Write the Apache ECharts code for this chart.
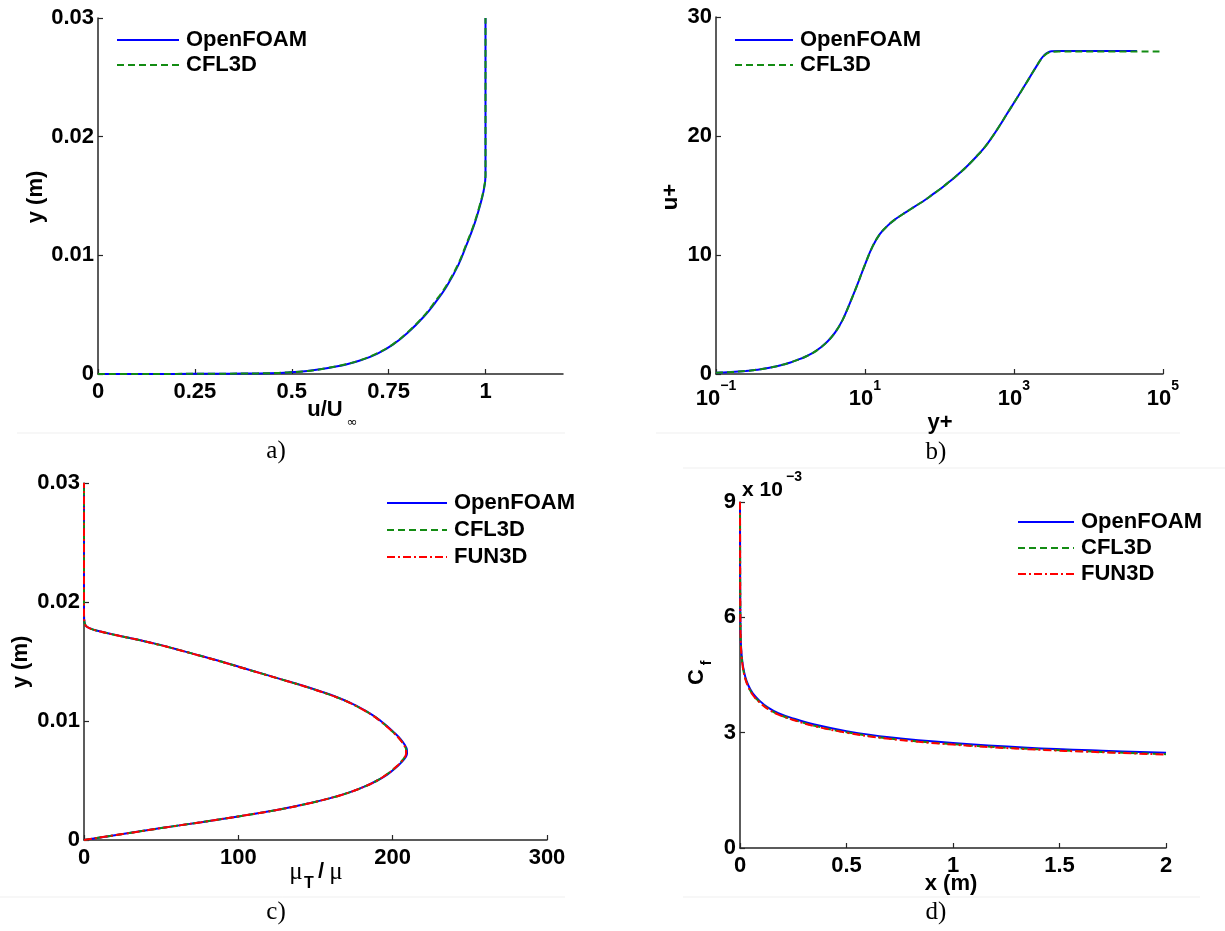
<!DOCTYPE html>
<html>
<head>
<meta charset="utf-8">
<script src="https://cdn.jsdelivr.net/npm/echarts@6/dist/echarts.min.js"></script>
<style>
  html, body { margin: 0; padding: 0; background: #ffffff; }
  #chart { width: 1225px; height: 931px; }
</style>
</head>
<body>
<div id="chart"></div>
<script>
// ---- a) mean velocity profile: u/U_inf against wall distance y (m) ----
const velU_openfoam = [0, 0.10, 0.20, 0.30, 0.38, 0.44, 0.49, 0.54, 0.59, 0.64, 0.68, 0.72, 0.76, 0.80, 0.84, 0.87, 0.90, 0.93, 0.95, 0.97, 0.985, 0.995, 1.0, 1.0];
const velY_openfoam = [0, 0.000005, 0.00001, 0.00002, 0.00004, 0.00007, 0.00013, 0.00025, 0.00048, 0.0008, 0.00118, 0.0017, 0.00245, 0.0035, 0.0048, 0.0060, 0.0074, 0.0092, 0.0108, 0.0125, 0.0141, 0.0154, 0.0167, 0.030];
const velU_cfl3d    = [0, 0.10, 0.20, 0.30, 0.38, 0.44, 0.49, 0.54, 0.59, 0.64, 0.68, 0.72, 0.76, 0.80, 0.84, 0.87, 0.90, 0.93, 0.95, 0.97, 0.985, 0.995, 1.0, 1.0];
const velY_cfl3d    = [0, 0.000005, 0.00001, 0.00002, 0.00004, 0.00007, 0.00013, 0.00025, 0.00049, 0.00082, 0.0012, 0.00173, 0.00248, 0.00355, 0.00485, 0.0061, 0.0075, 0.0093, 0.0109, 0.0126, 0.0142, 0.0155, 0.0168, 0.030];

// ---- b) law of the wall: u+ against y+ ----
const yPlus_openfoam = [0.1, 0.126, 0.158, 0.2, 0.251, 0.316, 0.398, 0.501, 0.631, 0.794, 1, 1.26, 1.58, 2.0, 2.51, 3.16, 3.98, 5.01, 6.31, 7.94, 10, 12.6, 15.8, 20, 25.1, 31.6, 39.8, 50.1, 63.1, 79.4, 100, 126, 158, 200, 251, 316, 398, 501, 631, 794, 1000, 1260, 1580, 2000, 2510, 3160, 3980, 10000, 44700];
const uPlus_openfoam = [0.10, 0.13, 0.16, 0.20, 0.25, 0.32, 0.40, 0.50, 0.63, 0.79, 0.97, 1.2, 1.45, 1.77, 2.2, 2.75, 3.5, 4.55, 6.0, 7.55, 9.2, 10.7, 11.75, 12.45, 12.97, 13.4, 13.8, 14.2, 14.6, 15.05, 15.5, 16.0, 16.5, 17.05, 17.65, 18.3, 19.0, 19.85, 20.8, 21.8, 22.8, 23.8, 24.8, 25.85, 26.75, 27.12, 27.15, 27.15, 27.15];
const yPlus_cfl3d    = [0.1, 0.126, 0.158, 0.2, 0.251, 0.316, 0.398, 0.501, 0.631, 0.794, 1, 1.26, 1.58, 2.0, 2.51, 3.16, 3.98, 5.01, 6.31, 7.94, 10, 12.6, 15.8, 20, 25.1, 31.6, 39.8, 50.1, 63.1, 79.4, 100, 126, 158, 200, 251, 316, 398, 501, 631, 794, 1000, 1260, 1580, 2000, 2510, 3160, 3980, 10000, 100000];
const uPlus_cfl3d    = [0.10, 0.13, 0.16, 0.20, 0.25, 0.32, 0.40, 0.50, 0.63, 0.79, 0.97, 1.2, 1.45, 1.77, 2.2, 2.75, 3.5, 4.55, 6.0, 7.55, 9.2, 10.7, 11.75, 12.45, 12.97, 13.4, 13.8, 14.2, 14.6, 15.05, 15.5, 16.0, 16.5, 17.05, 17.65, 18.3, 19.0, 19.85, 20.8, 21.8, 22.8, 23.8, 24.8, 25.85, 26.72, 27.07, 27.1, 27.1, 27.1];

// ---- c) eddy viscosity ratio mu_T/mu against y (m) ----
const muT_openfoam  = [0, 25, 50, 76, 101, 124, 143, 159, 172, 182, 190, 196.5, 201.5, 205.5, 208.6, 209.3, 209.2, 207.8, 205, 201.2, 197, 192.3, 187, 180.5, 173, 164, 153, 141, 128, 115, 102, 89, 75, 61, 46, 29, 18, 8, 3.5, 1.2, 0.3, 0, 0];
const muTY_openfoam = [0, 0.0005, 0.0010, 0.0015, 0.0020, 0.0025, 0.0030, 0.0035, 0.0040, 0.0045, 0.0050, 0.0055, 0.0060, 0.0065, 0.0070, 0.0073, 0.0076, 0.0080, 0.0085, 0.0090, 0.0095, 0.0100, 0.0105, 0.0110, 0.0115, 0.0120, 0.0125, 0.0130, 0.0135, 0.0140, 0.0145, 0.0150, 0.0155, 0.0160, 0.0165, 0.0170, 0.0173, 0.0176, 0.0178, 0.0180, 0.0183, 0.0190, 0.030];
const muT_cfl3d     = [0, 25, 50, 76, 101, 124, 143, 159, 172, 182, 190, 196, 201, 205, 208, 208.8, 208.7, 207.3, 204.5, 200.8, 196.6, 192, 186.7, 180.2, 172.7, 163.7, 152.7, 140.7, 127.7, 114.7, 101.7, 88.7, 74.7, 60.7, 45.7, 28.8, 17.8, 8, 3.5, 1.2, 0.3, 0, 0];
const muTY_cfl3d    = [0, 0.0005, 0.0010, 0.0015, 0.0020, 0.0025, 0.0030, 0.0035, 0.0040, 0.0045, 0.0050, 0.0055, 0.0060, 0.0065, 0.0070, 0.0073, 0.0076, 0.0080, 0.0085, 0.0090, 0.0095, 0.0100, 0.0105, 0.0110, 0.0115, 0.0120, 0.0125, 0.0130, 0.0135, 0.0140, 0.0145, 0.0150, 0.0155, 0.0160, 0.0165, 0.0170, 0.0173, 0.0176, 0.0178, 0.0180, 0.0183, 0.0190, 0.030];
const muT_fun3d     = [0, 25, 50, 76, 101, 124, 143, 159, 172, 182, 190, 196, 201, 205, 208, 208.7, 208.6, 207.2, 204.4, 200.7, 196.5, 191.9, 186.6, 180.1, 172.6, 163.6, 152.6, 140.6, 127.6, 114.6, 101.6, 88.6, 74.6, 60.6, 45.6, 28.7, 17.7, 8, 3.5, 1.2, 0.3, 0, 0];
const muTY_fun3d    = [0, 0.0005, 0.0010, 0.0015, 0.0020, 0.0025, 0.0030, 0.0035, 0.0040, 0.0045, 0.0050, 0.0055, 0.0060, 0.0065, 0.0070, 0.0073, 0.0076, 0.0080, 0.0085, 0.0090, 0.0095, 0.0100, 0.0105, 0.0110, 0.0115, 0.0120, 0.0125, 0.0130, 0.0135, 0.0140, 0.0145, 0.0150, 0.0155, 0.0160, 0.0165, 0.0170, 0.0173, 0.0176, 0.0178, 0.0180, 0.0183, 0.0190, 0.030];

// ---- d) skin friction coefficient (x 10^-3) along the plate ----
const cfX_openfoam = [0, 0.0005, 0.001, 0.002, 0.004, 0.008, 0.015, 0.025, 0.04, 0.06, 0.09, 0.13, 0.18, 0.25, 0.35, 0.5, 0.7, 1.0, 1.35, 1.7, 2.0];
const cf_openfoam  = [9.0, 7.6, 6.7, 5.9, 5.35, 5.0, 4.7, 4.45, 4.22, 4.02, 3.84, 3.66, 3.51, 3.37, 3.21, 3.04, 2.88, 2.73, 2.61, 2.53, 2.48];
const cfX_cfl3d    = [0, 0.0005, 0.001, 0.002, 0.004, 0.008, 0.015, 0.025, 0.04, 0.06, 0.09, 0.13, 0.18, 0.25, 0.35, 0.5, 0.7, 1.0, 1.35, 1.7, 2.0];
const cf_cfl3d     = [9.0, 7.5, 6.6, 5.85, 5.3, 4.95, 4.65, 4.41, 4.19, 3.99, 3.81, 3.63, 3.48, 3.34, 3.18, 3.01, 2.85, 2.70, 2.58, 2.50, 2.44];
const cfX_fun3d    = [0, 0.0005, 0.001, 0.002, 0.004, 0.008, 0.015, 0.025, 0.04, 0.06, 0.09, 0.13, 0.18, 0.25, 0.35, 0.5, 0.7, 1.0, 1.35, 1.7, 2.0];
const cf_fun3d     = [9.0, 7.5, 6.6, 5.85, 5.3, 4.95, 4.65, 4.40, 4.18, 3.98, 3.80, 3.62, 3.47, 3.33, 3.17, 3.00, 2.84, 2.69, 2.57, 2.49, 2.43];

// ---- tick values ----
const aXTicks = [0, 0.25, 0.5, 0.75, 1];
const aYTicks = [0, 0.01, 0.02, 0.03];
const bXTicks = [0.1, 10, 1000, 100000];
const bYTicks = [0, 10, 20, 30];
const cXTicks = [0, 100, 200, 300];
const cYTicks = [0, 0.01, 0.02, 0.03];
const dXTicks = [0, 0.5, 1, 1.5, 2];
const dYTicks = [0, 3, 6, 9];

const legendTwo = ['OpenFOAM', 'CFL3D'];
const legendThree = ['OpenFOAM', 'CFL3D', 'FUN3D'];

// ---- styling ----
const FONT = 'Liberation Sans';
const AXIS_COLOR = '#262626';
const BLUE = '#0000ff';
const GREEN = '#138c13';
const RED = '#ff0000';
const DASH = [7, 4];
const DASH_DOT = [8, 3, 2, 3];
const TICK_SIZE = 22;

function pairs(xs, ys) { return xs.map((x, i) => [x, ys[i]]); }
function num(v) { return String(Number(Number(v).toPrecision(6))); }

function axis(gridIndex, type, min, max, ticks, labelExtra) {
  return {
    gridIndex: gridIndex,
    type: type,
    min: min,
    max: max,
    logBase: 10,
    axisLine: { show: true, onZero: false, lineStyle: { color: AXIS_COLOR, width: 1.5 } },
    axisTick: { show: true, inside: true, length: 5, customValues: ticks, lineStyle: { color: AXIS_COLOR, width: 1.2 } },
    minorTick: { show: false },
    splitLine: { show: false },
    axisLabel: Object.assign({
      customValues: ticks,
      fontFamily: FONT, fontWeight: 'bold', fontSize: TICK_SIZE, color: '#000',
      hideOverlap: false, showMinLabel: true, showMaxLabel: true,
      formatter: num
    }, labelExtra || {})
  };
}

function line(name, idx, data, color, dash, z) {
  return {
    name: name, type: 'line', xAxisIndex: idx, yAxisIndex: idx,
    data: data, symbol: 'none', showSymbol: false,
    smooth: 0.4,
    lineStyle: { color: color, width: 2, type: dash },
    itemStyle: { color: color },
    emphasis: { disabled: true },
    animation: false, silent: true, z: z
  };
}

function legend(names, left, top, iconWidth, gap) {
  return {
    data: names, orient: 'vertical', left: left, top: top, padding: 0,
    itemWidth: iconWidth, itemHeight: 17, itemGap: gap, selectedMode: false,
    itemStyle: { opacity: 0, borderWidth: 0 },
    textStyle: { fontFamily: FONT, fontWeight: 'bold', fontSize: 22, color: '#000', padding: [0, 0, 0, 2] }
  };
}

function txt(text, x, y, font, opts) {
  return Object.assign({
    type: 'text', x: x, y: y, silent: true,
    style: Object.assign({ text: text, font: font, fill: '#000', align: 'center', verticalAlign: 'middle' }, (opts && opts.style) || {})
  }, (opts && opts.rotation !== undefined) ? { rotation: opts.rotation } : {});
}

function hline(x1, x2, y) {
  return { type: 'line', silent: true, shape: { x1: x1, y1: y, x2: x2, y2: y }, style: { stroke: '#efefef', lineWidth: 1 } };
}

const BOLD = 'bold 22px "Liberation Sans"';
const CAPTION = '25px "Liberation Serif"';
const UP = Math.PI / 2;

const logLabel = {
  formatter: function (v) {
    const e = Math.round(Math.log10(v));
    return '{m|10}{e|' + (e < 0 ? '\u2212' + (-e) : e) + '}';
  },
  rich: {
    m: { fontFamily: FONT, fontWeight: 'bold', fontSize: TICK_SIZE, color: '#000', padding: [9, 0, 0, 0], verticalAlign: 'bottom' },
    e: { fontFamily: FONT, fontWeight: 'bold', fontSize: 14, color: '#000', verticalAlign: 'top' }
  },
  margin: 5
};

const option = {
  backgroundColor: '#ffffff',
  animation: false,
  grid: [
    { left: 98, top: 18, width: 465, height: 356, outerBoundsMode: 'none', containLabel: false },
    { left: 716, top: 17, width: 447, height: 357, outerBoundsMode: 'none', containLabel: false },
    { left: 84, top: 483, width: 463, height: 357, outerBoundsMode: 'none', containLabel: false },
    { left: 740, top: 502, width: 426, height: 346, outerBoundsMode: 'none', containLabel: false }
  ],
  xAxis: [
    axis(0, 'value', 0, 1.2, aXTicks, { margin: 7 }),
    axis(1, 'log', 0.1, 100000, bXTicks, logLabel),
    axis(2, 'value', 0, 300, cXTicks, { margin: 7 }),
    axis(3, 'value', 0, 2, dXTicks, { margin: 7 })
  ],
  yAxis: [
    axis(0, 'value', 0, 0.03, aYTicks, { margin: 4 }),
    axis(1, 'value', 0, 30, bYTicks, { margin: 4 }),
    axis(2, 'value', 0, 0.03, cYTicks, { margin: 4 }),
    axis(3, 'value', 0, 9, dYTicks, { margin: 4 })
  ],
  legend: [
    legend(legendTwo, 116, 29, 62, 3),
    legend(legendTwo, 734, 29, 58, 3),
    legend(legendThree, 386, 492, 60, 5),
    legend(legendThree, 1017, 511, 56, 4)
  ],
  series: [
    line('OpenFOAM', 0, pairs(velU_openfoam, velY_openfoam), BLUE, 'solid', 2),
    line('CFL3D', 0, pairs(velU_cfl3d, velY_cfl3d), GREEN, DASH, 3),

    line('OpenFOAM', 1, pairs(yPlus_openfoam, uPlus_openfoam), BLUE, 'solid', 2),
    line('CFL3D', 1, pairs(yPlus_cfl3d, uPlus_cfl3d), GREEN, DASH, 3),

    line('OpenFOAM', 2, pairs(muT_openfoam, muTY_openfoam), BLUE, 'solid', 2),
    line('CFL3D', 2, pairs(muT_cfl3d, muTY_cfl3d), GREEN, DASH, 3),
    line('FUN3D', 2, pairs(muT_fun3d, muTY_fun3d), RED, DASH_DOT, 4),

    line('OpenFOAM', 3, pairs(cfX_openfoam, cf_openfoam), BLUE, 'solid', 2),
    line('CFL3D', 3, pairs(cfX_cfl3d, cf_cfl3d), GREEN, DASH, 3),
    line('FUN3D', 3, pairs(cfX_fun3d, cf_fun3d), RED, DASH_DOT, 4)
  ],
  graphic: [
    // faint panel frames
    hline(17, 565, 433),
    hline(656, 1180, 433),
    hline(683, 1225, 468),
    hline(0, 565, 897),
    hline(683, 1200, 897),

    // a)
    txt('u/U', 325, 410, BOLD),
    txt('\u221e', 352, 423, '13px "DejaVu Sans"'),
    txt('y (m)', 36, 197, BOLD, { rotation: UP }),
    txt('a)', 276, 451, CAPTION),

    // b)
    txt('y+', 940, 423, BOLD),
    txt('u+', 671, 197, BOLD, { rotation: UP }),
    txt('b)', 936, 452, CAPTION),

    // c)
    txt('\u03bc', 296, 872, '25px "Liberation Serif"'),
    txt('T', 309, 884, 'bold 16px "Liberation Sans"'),
    txt('/', 321, 872, BOLD),
    txt('\u03bc', 336, 872, '25px "Liberation Serif"'),
    txt('y (m)', 21, 662, BOLD, { rotation: UP }),
    txt('c)', 276, 912, CAPTION),

    // d)
    txt('x (m)', 951, 884, BOLD),
    txt('C', 697, 677, BOLD, { rotation: UP }),
    txt('f', 707, 663, 'bold 14px "Liberation Sans"', { rotation: UP }),
    txt('x 10', 742, 490, 'bold 21px "Liberation Sans"', { style: { align: 'left' } }),
    txt('\u22123', 786, 477, 'bold 14px "Liberation Sans"', { style: { align: 'left' } }),
    txt('d)', 936, 912, CAPTION)
  ]
};

const chart = echarts.init(document.getElementById('chart'), null, { renderer: 'canvas', width: 1225, height: 931 });
chart.setOption(option);
</script>
</body>
</html>
